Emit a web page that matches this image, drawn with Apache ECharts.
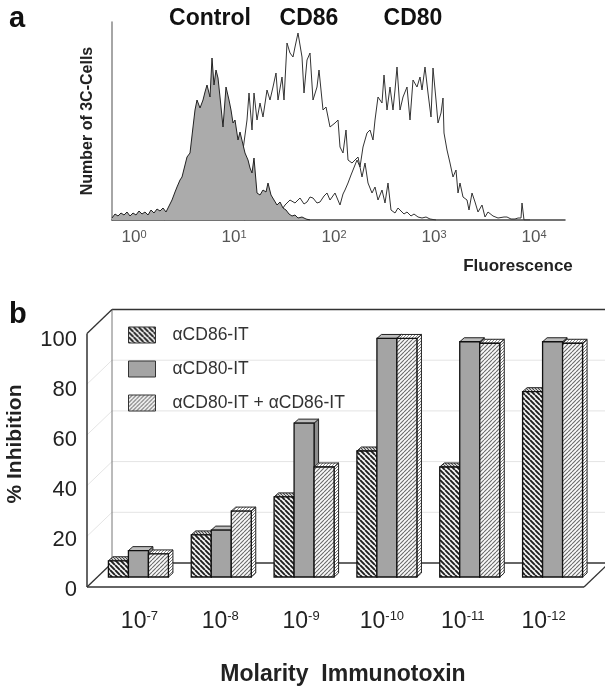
<!DOCTYPE html>
<html><head><meta charset="utf-8">
<script src="https://cdn.jsdelivr.net/npm/echarts@6/dist/echarts.min.js"></script>
<style>html,body{margin:0;padding:0;background:#fff}#c{width:605px;height:688px}</style>
</head><body><div id="c"></div>
<script>
// ---------- Panel a: flow cytometry histograms [log10 fluorescence, cell count] ----------
const ctrlHist = [[-0.22,2],[-0.19,6],[-0.16,4],[-0.13,7],[-0.10,5],[-0.07,8],[-0.04,4],[-0.01,7],[0.02,5],[0.05,9],[0.08,6],[0.11,8],[0.14,5],[0.17,10],[0.20,7],[0.23,11],[0.26,9],[0.29,12],[0.32,8],[0.33,10],[0.38,20],[0.41,28],[0.43,33],[0.46,40],[0.48,43],[0.51,55],[0.53,63],[0.56,67],[0.59,93],[0.61,110],[0.63,120],[0.66,112],[0.69,120],[0.71,128],[0.73,135],[0.76,123],[0.78,162],[0.80,135],[0.82,150],[0.84,142],[0.86,123],[0.89,93],[0.92,133],[0.95,120],[0.97,110],[0.99,97],[1.01,100],[1.04,80],[1.06,88],[1.08,87],[1.11,67],[1.14,60],[1.16,52],[1.18,47],[1.20,62],[1.23,27],[1.26,25],[1.29,30],[1.32,28],[1.34,37],[1.37,25],[1.40,20],[1.43,15],[1.46,18],[1.49,12],[1.52,10],[1.55,6],[1.58,4],[1.61,5],[1.64,2],[1.68,3],[1.72,1],[1.76,0]];
const cd86Hist = [[0.30,0],[0.40,6],[0.50,14],[0.60,30],[0.70,45],[0.80,55],[0.90,60],[1.00,64],[1.09,70],[1.13,100],[1.15,127],[1.18,90],[1.20,127],[1.23,100],[1.26,117],[1.29,103],[1.33,130],[1.36,120],[1.39,133],[1.42,147],[1.44,120],[1.48,143],[1.50,120],[1.53,177],[1.56,167],[1.59,163],[1.61,173],[1.64,187],[1.68,163],[1.70,127],[1.73,160],[1.76,167],[1.79,120],[1.83,133],[1.85,150],[1.89,110],[1.92,113],[1.96,93],[2.01,97],[2.04,100],[2.06,73],[2.09,67],[2.12,90],[2.14,60],[2.18,57],[2.21,60],[2.24,63],[2.28,43],[2.31,57],[2.34,37],[2.38,27],[2.41,33],[2.44,20],[2.48,30],[2.51,17],[2.54,37],[2.57,10],[2.61,7],[2.64,12],[2.66,10],[2.70,6],[2.73,8],[2.77,4],[2.80,6],[2.84,3],[2.88,2],[2.92,3],[2.96,1],[3.02,0]];
const cd80Hist = [[1.10,0],[1.20,3],[1.30,6],[1.40,8],[1.46,10],[1.49,12],[1.51,15],[1.56,20],[1.61,17],[1.66,22],[1.70,16],[1.73,18],[1.76,23],[1.79,22],[1.83,17],[1.86,18],[1.90,24],[1.93,27],[1.96,20],[1.98,22],[2.01,27],[2.03,25],[2.06,15],[2.09,26],[2.11,30],[2.14,37],[2.17,45],[2.19,50],[2.23,60],[2.26,53],[2.29,73],[2.33,87],[2.36,90],[2.39,80],[2.41,100],[2.44,123],[2.48,117],[2.50,145],[2.53,110],[2.56,133],[2.59,110],[2.61,130],[2.63,153],[2.66,110],[2.69,123],[2.73,133],[2.76,100],[2.79,140],[2.83,133],[2.86,143],[2.88,130],[2.91,153],[2.94,127],[2.97,103],[2.99,152],[3.02,120],[3.04,97],[3.07,107],[3.09,122],[3.10,87],[3.13,70],[3.16,57],[3.19,43],[3.22,50],[3.24,27],[3.26,37],[3.29,23],[3.33,20],[3.35,10],[3.38,27],[3.41,18],[3.44,8],[3.48,15],[3.51,3],[3.54,8],[3.56,7],[3.59,4],[3.61,5],[3.64,2],[3.66,2],[3.70,3],[3.73,3],[3.77,1],[3.81,1],[3.84,2],[3.87,2],[3.88,17],[3.89,17],[3.90,0],[3.96,0]];
const decadeExponents = [0,1,2,3,4];
const histTitles = ['Control','CD86','CD80'];

// ---------- Panel b: % inhibition bars ----------
const molarityExponents = ['-7','-8','-9','-10','-11','-12'];
const seriesNames = ['αCD86-IT','αCD80-IT','αCD80-IT + αCD86-IT'];
const cd86IT  = [6.4, 16.6, 31.6, 49.7, 43.4, 73.1];
const cd80IT  = [10.4, 18.5, 60.7, 94.1, 92.8, 92.8];
const comboIT = [9.1, 26.0, 43.4, 94.1, 92.2, 92.2];
const inhibitionTicks = [0,20,40,60,80,100];

const FF = '"Liberation Sans", Arial, Helvetica, sans-serif';

function hatch(dir, bg, fg, lw, size) {
  const c = document.createElement('canvas'); c.width = size; c.height = size;
  const g = c.getContext('2d'); g.fillStyle = bg; g.fillRect(0,0,size,size);
  g.strokeStyle = fg; g.lineWidth = lw; g.beginPath();
  for (let k=-1;k<=1;k++){
    if (dir>0){ g.moveTo(k*size, size); g.lineTo(k*size+size, 0); }
    else { g.moveTo(k*size, 0); g.lineTo(k*size+size, size); }
  }
  g.stroke();
  return {image:c, repeat:'repeat'};
}
const faceFills = [hatch(-1,'#f2f2f2','#1e1e1e',1.9,5), '#a4a4a4', hatch(1,'#fafafa','#6a6a6a',1.1,4)];
const topFills  = [hatch(-1,'#f6f6f6','#444',1.2,3), '#bdbdbd', hatch(1,'#fff','#888',1,3)];
const sideFills = [hatch(-1,'#eee','#333',1.2,3), '#8c8c8c', hatch(1,'#fff','#777',1,3)];
const barValues = [cd86IT, cd80IT, comboIT];

function barRender(s) {
  return function(params, api) {
    const i = api.value(0), v = api.value(1);
    const top = api.coord([i, v]), base = api.coord([i, 0]);
    const band = api.size([1, 0])[0];
    const w = band * 0.2415;
    const x0 = top[0] - 1.5*w + s*w;
    const yt = top[1], yb = base[1];
    const dx = 4.5, dy = -4;
    return {type:'group', children:[
      {type:'polygon', shape:{points:[[x0+w,yt],[x0+w+dx,yt+dy],[x0+w+dx,yb+dy],[x0+w,yb]]}, style:{fill:sideFills[s], stroke:'#222', lineWidth:1}},
      {type:'polygon', shape:{points:[[x0,yt],[x0+dx,yt+dy],[x0+w+dx,yt+dy],[x0+w,yt]]}, style:{fill:topFills[s], stroke:'#222', lineWidth:1}},
      {type:'rect', shape:{x:x0, y:yt, width:w, height:yb-yt}, style:{fill:faceFills[s], stroke:'#111', lineWidth:1.3}}
    ]};
  };
}

function wallRender(params, api) {
  const band = api.size([1,0])[0];
  const xL = api.coord([0,0])[0] - band/2;
  const xR = api.coord([molarityExponents.length-1,0])[0] + band/2;
  const y = v => api.coord([0,v])[1];
  const B = [15,-14], F = [-10,10];
  const L = (x1,y1,x2,y2,stroke,lw) => ({type:'line', shape:{x1,y1,x2,y2}, style:{stroke, lineWidth:lw}});
  const kids = [];
  const vMax = inhibitionTicks[inhibitionTicks.length-1];
  inhibitionTicks.slice(1,-1).forEach(v => {
    kids.push(L(xL+B[0], y(v)+B[1], xR+B[0]+5, y(v)+B[1], '#e4e4e4', 1));
    kids.push(L(xL+F[0], y(v)+F[1], xL+B[0], y(v)+B[1], '#e4e4e4', 1));
  });
  const y0 = y(0), yT = y(vMax);
  kids.push(L(xL+B[0], yT+B[1], xR+B[0]+5, yT+B[1], '#333', 1.5));
  kids.push(L(xL+B[0], yT+B[1], xL+B[0], y0+B[1], '#777', 1));
  kids.push(L(xL+B[0], y0+B[1], xR+B[0]+5, y0+B[1], '#333', 1.3));
  kids.push(L(xL+F[0], yT+F[1], xL+F[0], y0+F[1], '#333', 1.5));
  kids.push(L(xL+F[0], yT+F[1], xL+B[0], yT+B[1], '#333', 1.3));
  kids.push(L(xL+F[0], y0+F[1], xL+B[0], y0+B[1], '#333', 1.3));
  kids.push(L(xL+F[0], y0+F[1], xR+F[0], y0+F[1], '#333', 1.5));
  kids.push(L(xR+F[0], y0+F[1], xR+B[0], y0+B[1], '#333', 1.3));
  return {type:'group', children:kids};
}

const chart = echarts.init(document.getElementById('c'), null, {renderer:'canvas'});
const titleX = [210, 309, 413];
chart.setOption({
  animation:false,
  textStyle:{fontFamily:FF},
  grid:[
    {left:112, right:40, top:22, bottom:468},
    {left:97, right:11, top:323.5, bottom:111},
    {left:99, right:21, top:340, bottom:98}
  ],
  xAxis:[
    {gridIndex:0, type:'value', min:-0.22, max:4.31,
     axisLine:{show:true, onZero:false, lineStyle:{color:'#444', width:1.5}}, axisTick:{show:false}, splitLine:{show:false},
     axisLabel:{showMinLabel:false, showMaxLabel:false, margin:9, color:'#555',
       formatter: v => decadeExponents.indexOf(v) >= 0 ? '{b|10}{s|' + v + '}' : '',
       rich:{b:{fontSize:17, color:'#555', fontFamily:FF}, s:{fontSize:11, color:'#555', verticalAlign:'top', fontFamily:FF}}}},
    {gridIndex:1, type:'category', data:molarityExponents, show:false},
    {gridIndex:2, type:'category', data:molarityExponents,
     axisLine:{show:false}, axisTick:{show:false}, splitLine:{show:false},
     axisLabel:{interval:0, margin:20, formatter: v => '{b|10}{s|' + v + '}',
       rich:{b:{fontSize:23, color:'#222', fontFamily:FF}, s:{fontSize:13, color:'#222', verticalAlign:'top', fontFamily:FF}}}}
  ],
  yAxis:[
    {gridIndex:0, type:'value', min:0, max:198,
     axisLine:{show:true, onZero:false, lineStyle:{color:'#888', width:1.5}}, axisTick:{show:false}, axisLabel:{show:false}, splitLine:{show:false},
     name:'Number of 3C-Cells', nameLocation:'middle', nameGap:16, nameRotate:90,
     nameTextStyle:{fontSize:16, fontWeight:'bold', color:'#222', fontFamily:FF}},
    {gridIndex:1, type:'value', min:0, max:100, show:false},
    {gridIndex:2, type:'value', min:0, max:100, interval:20, offset:11,
     axisLine:{show:false}, axisTick:{show:false}, splitLine:{show:false},
     axisLabel:{margin:11, fontSize:22, color:'#222', fontFamily:FF}}
  ],
  legend:{
    orient:'vertical', left:123, top:321, itemWidth:27, itemHeight:16, itemGap:16,
    selectedMode:false, icon:'rect',
    formatter: n => '{g|}' + n,
    textStyle:{fontSize:17.5, color:'#333', fontFamily:FF, rich:{g:{width:12}}},
    data: seriesNames.map((n,k) => ({name:n, itemStyle:{color:faceFills[k], borderColor:'#333', borderWidth:1}}))
  },
  graphic:[
    {type:'text', left:9, top:4, style:{text:'a', font:'bold 29px '+FF, fill:'#111'}},
    {type:'text', left:9, top:300, style:{text:'b', font:'bold 29px '+FF, fill:'#111'}},
    ...histTitles.map((t,k) => ({type:'text', x:titleX[k], y:19, style:{text:t, font:'bold 23px '+FF, fill:'#111', align:'center', verticalAlign:'middle'}})),
    {type:'text', x:518, y:266, style:{text:'Fluorescence', font:'bold 17px '+FF, fill:'#222', align:'center', verticalAlign:'middle'}},
    {type:'text', x:15, y:444, rotation:Math.PI/2, style:{text:'% Inhibition', font:'bold 21px '+FF, fill:'#222', align:'center', verticalAlign:'middle'}},
    {type:'text', x:343, y:675, style:{text:'Molarity  Immunotoxin', font:'bold 23px '+FF, fill:'#222', align:'center', verticalAlign:'middle'}}
  ],
  series:[
    {type:'line', xAxisIndex:0, yAxisIndex:0, data:cd80Hist, showSymbol:false, silent:true, z:2, lineStyle:{color:'#333', width:1}},
    {type:'line', xAxisIndex:0, yAxisIndex:0, data:cd86Hist, showSymbol:false, silent:true, z:2, lineStyle:{color:'#333', width:1}},
    {type:'line', xAxisIndex:0, yAxisIndex:0, data:ctrlHist, showSymbol:false, silent:true, z:4, lineStyle:{color:'#222', width:1}, areaStyle:{color:'#ababab', opacity:1}},
    {type:'custom', name:'walls', xAxisIndex:1, yAxisIndex:1, data:[[0,0]], renderItem:wallRender, z:1, silent:true},
    ...seriesNames.map((n,s) => ({type:'custom', name:n, xAxisIndex:1, yAxisIndex:1, z:3, silent:true,
      itemStyle:{color:faceFills[s]},
      data: barValues[s].map((v,i) => [i, v]), encode:{x:0, y:1}, renderItem:barRender(s)}))
  ]
});
</script></body></html>
